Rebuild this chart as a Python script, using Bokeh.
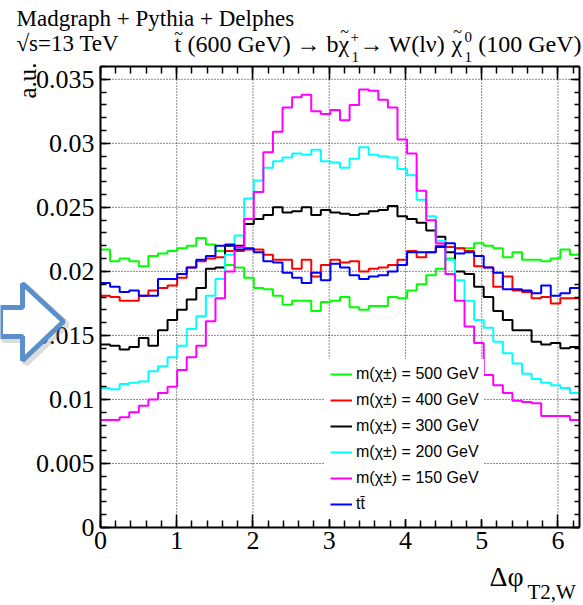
import numpy as np
from bokeh.plotting import figure
from bokeh.models import (FixedTicker, LinearAxis, Label, Legend, LegendItem,
                          PolyAnnotation, Range1d)
from bokeh.embed import file_html
from bokeh.resources import INLINE

# ---- data: normalised Delta-phi(T2, W) distributions, 50 bins over [0, 2*pi] ----
n_bins = 50
phi_max = 2.0 * np.pi
y_max = 0.036
phi_edges = np.linspace(0.0, phi_max, n_bins + 1)

m500 = [0.0217, 0.0208, 0.0210, 0.0208, 0.0204, 0.0212, 0.0214, 0.0216, 0.0218, 0.0220,
        0.0226, 0.0221, 0.0216, 0.0205, 0.0203, 0.0195, 0.0187, 0.0186, 0.0181, 0.0174,
        0.0177, 0.0177, 0.0169, 0.0176, 0.0177, 0.0180, 0.0172, 0.0170, 0.0173, 0.0173,
        0.0180, 0.0179, 0.0185, 0.0190, 0.0197, 0.0202, 0.0210, 0.0218, 0.0218, 0.0222,
        0.0220, 0.0218, 0.0211, 0.0215, 0.0209, 0.0209, 0.0208, 0.0210, 0.0217, 0.0213]
m400 = [0.0181, 0.0180, 0.0177, 0.0177, 0.0181, 0.0185, 0.0187, 0.0189, 0.0195, 0.0203,
        0.0208, 0.0210, 0.0211, 0.0216, 0.0216, 0.0217, 0.0217, 0.0213, 0.0209, 0.0209,
        0.0202, 0.0209, 0.0196, 0.0205, 0.0209, 0.0207, 0.0208, 0.0200, 0.0202, 0.0203,
        0.0205, 0.0209, 0.0216, 0.0211, 0.0215, 0.0220, 0.0219, 0.0218, 0.0216, 0.0204,
        0.0203, 0.0188, 0.0196, 0.0185, 0.0184, 0.0179, 0.0180, 0.0175, 0.0179, 0.0179]
m300 = [0.0143, 0.0142, 0.0139, 0.0141, 0.0148, 0.0142, 0.0154, 0.0162, 0.0170, 0.0178,
        0.0187, 0.0202, 0.0203, 0.0220, 0.0220, 0.0237, 0.0241, 0.0244, 0.0250, 0.0246,
        0.0247, 0.0250, 0.0244, 0.0248, 0.0246, 0.0245, 0.0244, 0.0245, 0.0247, 0.0248,
        0.0251, 0.0243, 0.0241, 0.0238, 0.0232, 0.0227, 0.0215, 0.0200, 0.0198, 0.0188,
        0.0180, 0.0169, 0.0162, 0.0154, 0.0154, 0.0145, 0.0143, 0.0144, 0.0140, 0.0141]
m200 = [0.0109, 0.0108, 0.0112, 0.0113, 0.0114, 0.0122, 0.0126, 0.0133, 0.0142, 0.0155,
        0.0165, 0.0181, 0.0194, 0.0213, 0.0228, 0.0257, 0.0271, 0.0281, 0.0286, 0.0289,
        0.0292, 0.0291, 0.0295, 0.0286, 0.0285, 0.0281, 0.0288, 0.0297, 0.0291, 0.0290,
        0.0289, 0.0280, 0.0275, 0.0256, 0.0243, 0.0224, 0.0209, 0.0193, 0.0177, 0.0162,
        0.0156, 0.0145, 0.0136, 0.0128, 0.0120, 0.0116, 0.0113, 0.0111, 0.0109, 0.0105]
m150 = [0.0084, 0.0084, 0.0086, 0.0090, 0.0095, 0.0100, 0.0105, 0.0110, 0.0123, 0.0133,
        0.0142, 0.0161, 0.0179, 0.0200, 0.0219, 0.0241, 0.0262, 0.0293, 0.0309, 0.0328,
        0.0336, 0.0338, 0.0325, 0.0323, 0.0326, 0.0318, 0.0330, 0.0342, 0.0341, 0.0334,
        0.0328, 0.0303, 0.0292, 0.0263, 0.0240, 0.0222, 0.0198, 0.0177, 0.0157, 0.0144,
        0.0119, 0.0111, 0.0105, 0.0099, 0.0098, 0.0097, 0.0087, 0.0087, 0.0087, 0.0084]
ttbar = [0.0191, 0.0188, 0.0184, 0.0185, 0.0181, 0.0181, 0.0194, 0.0194, 0.0198, 0.0203,
         0.0209, 0.0212, 0.0220, 0.0221, 0.0217, 0.0218, 0.0215, 0.0208, 0.0207, 0.0199,
         0.0195, 0.0191, 0.0199, 0.0193, 0.0206, 0.0203, 0.0197, 0.0194, 0.0196, 0.0197,
         0.0200, 0.0205, 0.0215, 0.0215, 0.0215, 0.0219, 0.0222, 0.0214, 0.0215, 0.0212,
         0.0203, 0.0199, 0.0186, 0.0186, 0.0185, 0.0183, 0.0189, 0.0181, 0.0183, 0.0187]

series_labels = ["m(\u03c7\u00b1) = 500 GeV", "m(\u03c7\u00b1) = 400 GeV",
                 "m(\u03c7\u00b1) = 300 GeV", "m(\u03c7\u00b1) = 200 GeV",
                 "m(\u03c7\u00b1) = 150 GeV", "tt\u0304"]
series_values = [m500, m400, m300, m200, m150, ttbar]
series_colors = ["#00ff00", "#ff0000", "#000000", "#00ffff", "#ff00ff", "#0000ff"]

x_tick_values = [0, 1, 2, 3, 4, 5, 6]
y_tick_values = [0.0, 0.005, 0.01, 0.015, 0.02, 0.025, 0.03, 0.035]
y_tick_labels = ["0", "0.005", "0.01", "0.015", "0.02", "0.025", "0.03", "0.035"]

# ---- layout constants (canvas pixels); the plotting frame spans the whole canvas ----
W, H = 583, 605
FL, FR, FT, FB = 100, 579, 66, 527   # edges of the histogram box
SERIF = "Liberation Serif"
SANS = "Liberation Sans"

# view window chosen so that [0, 2pi] x [0, y_max] lands on the histogram box
sx = (FR - FL) / phi_max
sy = (FB - FT) / y_max
x_view = Range1d(-FL / sx, phi_max + (W - FR) / sx)
y_view = Range1d(-(H - FB) / sy, y_max + FT / sy)

p = figure(width=W, height=H, output_backend="svg", toolbar_location=None,
           x_range=x_view, y_range=y_view,
           x_axis_location=None, y_axis_location=None,
           min_border=0, min_border_left=0, min_border_right=0,
           min_border_top=0, min_border_bottom=0)
p.background_fill_color = "white"
p.border_fill_color = "white"
p.outline_line_color = None
p.grid.visible = False

x_minor = [round(v, 3) for v in np.arange(0, 6.3, 0.2)]
y_minor = [round(v, 4) for v in np.arange(0, y_max + 1e-4, 0.001)]
xt = FixedTicker(ticks=x_tick_values, minor_ticks=x_minor)
yt = FixedTicker(ticks=y_tick_values, minor_ticks=y_minor)


def make_axis(ticker, where, at, bounds, tick_major, tick_minor, show_labels):
    ax = LinearAxis(ticker=ticker, fixed_location=at, bounds=bounds)
    ax.axis_line_color = "black"
    ax.axis_line_width = 2
    ax.major_tick_line_color = "black"
    ax.minor_tick_line_color = "black"
    ax.major_tick_line_width = 1.5
    ax.minor_tick_line_width = 1.5
    ax.major_tick_in = tick_major
    ax.major_tick_out = 0
    ax.minor_tick_in = tick_minor
    ax.minor_tick_out = 0
    ax.major_label_text_font = SERIF
    ax.major_label_text_font_size = "26px"
    ax.major_label_text_color = "black" if show_labels else None
    p.add_layout(ax, where)
    return ax


bx = make_axis(xt, "below", 0.0, (0, phi_max), 13, 7, True)
bx.major_label_standoff = 4
ly = make_axis(yt, "left", 0.0, (0, y_max), 10, 6, True)
ly.major_label_overrides = {v: s for v, s in zip(y_tick_values, y_tick_labels)}
ly.major_label_standoff = 6
make_axis(xt, "above", y_max, (0, phi_max), 13, 7, False)
make_axis(yt, "right", phi_max, (0, y_max), 9, 5, False)

# dotted grid at the major ticks, inside the histogram box
gx = [t for t in x_tick_values if 0 < t < phi_max]
gy = [t for t in y_tick_values if 0 < t < y_max]
p.segment(x0=gx, y0=[0] * len(gx), x1=gx, y1=[y_max] * len(gx),
          line_color="black", line_width=1, line_dash="1 2", line_alpha=0.9)
p.segment(x0=[0] * len(gy), y0=gy, x1=[phi_max] * len(gy), y1=gy,
          line_color="black", line_width=1, line_dash="1 2", line_alpha=0.9)

# ---- histograms drawn as steps ----
items = []
for lab, vals, col in zip(series_labels, series_values, series_colors):
    yv = list(vals) + [vals[-1]]
    r = p.step(x=phi_edges, y=yv, mode="after", line_color=col, line_width=2)
    items.append(LegendItem(label=lab, renderers=[r]))

LEG_LEFT, LEG_BOTTOM, LEG_PAD = 325, 519, 5
ROW_H, ROW_GAP = 20, 6
legend = Legend(items=items, location=(LEG_LEFT, H - LEG_BOTTOM), orientation="vertical",
                glyph_width=22, glyph_height=ROW_H, label_height=ROW_H, spacing=ROW_GAP,
                label_standoff=4, padding=LEG_PAD, margin=0,
                label_text_font=SANS, label_text_font_size="16px",
                label_text_color="black",
                background_fill_color="white", background_fill_alpha=1.0,
                border_line_alpha=0)
p.add_layout(legend)

# the label anchor sits a little below the alphabetic baseline; compensate per size
BASE_SHIFT = 0.37


def put(text, xc, yc, size, font=SERIF, align="left", angle=0.0, level="annotation"):
    """Place a text with its baseline at canvas pixel (xc, yc), y measured from the top."""
    d = BASE_SHIFT * size
    if angle:
        xa, ya = xc - d, yc
    else:
        xa, ya = xc, yc - d
    p.add_layout(Label(x=xa, y=H - ya, x_units="screen", y_units="screen",
                       text=text, text_font=font, text_font_size=f"{size}px",
                       text_align=align, text_baseline="alphabetic", angle=angle,
                       text_color="black", level=level))


# tildes over the chargino symbol in the legend entries
n_rows = len(series_labels)
rows_top = LEG_BOTTOM - LEG_PAD - (n_rows * ROW_H + (n_rows - 1) * ROW_GAP)
for k in range(n_rows - 1):
    row_c = rows_top + ROW_H / 2 + k * (ROW_H + ROW_GAP)
    put("~", 379, row_c - 4, 15, font=SANS, align="center", level="overlay")

# header, first line
put("Madgraph + Pythia + Delphes", 16, 27, 23)
# header, second line (decay chain with stacked super/subscripts)
L2 = 52
put("\u221as=13 TeV", 16, L2, 23)
put("t", 174, L2, 24)
put("~", 178, L2 - 13, 16, align="center")
put("(600 GeV)", 187, L2, 24)
put("\u2192", 296, L2, 24)
put("b", 326, L2, 24)
put("\u03c7", 338, L2, 24)
put("~", 344, L2 - 15, 16, align="center")
put("+", 350, L2 - 10, 15)
put("1", 351, L2 + 10, 15)
put("\u2192", 359, L2, 24)
put("W(l\u03bd)", 388, L2, 24)
put("\u03c7", 451, L2, 24)
put("~", 457, L2 - 15, 16, align="center")
put("0", 464, L2 - 10, 15)
put("1", 464, L2 + 10, 15)
put("(100 GeV)", 581, L2, 24, align="right")

# axis titles
put("a.u.", 36, 62, 25, align="right", angle=np.pi / 2)
put("\u0394\u03c6", 489, 586, 28)
put("T2,W", 527, 599, 21)

# arrow marker on the left margin
arrow_x = [0, 22, 22, 63, 22, 22, 0]
arrow_y = [307, 307, 283, 321, 360, 336, 336]
p.add_layout(PolyAnnotation(xs=[x + 3 for x in arrow_x], ys=[H - y - 3 for y in arrow_y],
                            xs_units="screen", ys_units="screen",
                            fill_alpha=0, line_color="#8a8a8a", line_alpha=0.3,
                            line_width=7, level="overlay"))
p.add_layout(PolyAnnotation(xs=arrow_x, ys=[H - y for y in arrow_y],
                            xs_units="screen", ys_units="screen",
                            fill_color="white", fill_alpha=1.0,
                            line_color="#5b8fcb", line_alpha=1.0,
                            line_width=5, level="overlay"))

open("out.html", "w").write(file_html(p, INLINE))
